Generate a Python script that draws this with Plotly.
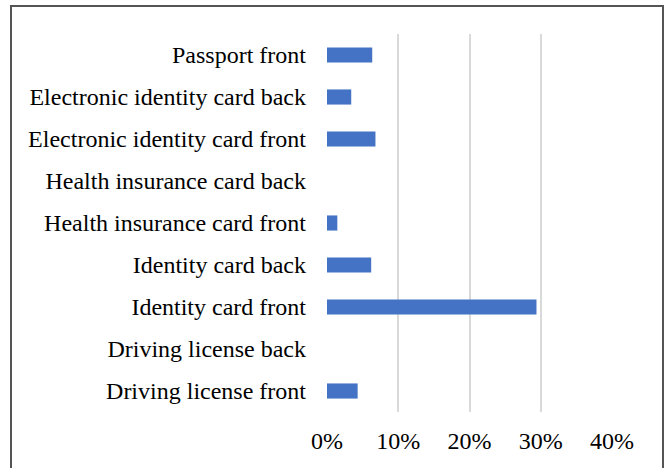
import plotly.graph_objects as go

categories = [
    "Driving license front",
    "Driving license back",
    "Identity card front",
    "Identity card back",
    "Health insurance card front",
    "Health insurance card back",
    "Electronic identity card front",
    "Electronic identity card back",
    "Passport front",
]
values = [0.043, 0.0, 0.294, 0.062, 0.0145, 0.0, 0.068, 0.034, 0.0635]
x_ticks = [0, 0.1, 0.2, 0.3, 0.4]
x_tick_labels = ["0%", "10%", "20%", "30%", "40%"]

W, H = 665, 468
L, R, T, B = 327, 612, 34, 412

fig = go.Figure(go.Bar(
    y=categories, x=values, orientation="h",
    marker=dict(color="#4472C4", line=dict(width=0)),
))

pw, ph = R - L, B - T
fig.add_shape(type="rect", xref="paper", yref="paper",
              x0=(11 - L) / pw, x1=(663 - L) / pw,
              y0=(B - 480) / ph, y1=(B - 6) / ph,
              line=dict(color="#555555", width=2), fillcolor="rgba(0,0,0,0)")

fig.update_layout(
    width=W, height=H,
    margin=dict(l=L, r=W - R, t=T, b=H - B, pad=0),
    paper_bgcolor="white", plot_bgcolor="white",
    font=dict(family="Liberation Serif", size=24, color="#000000"),
    bargap=0.64, showlegend=False,
    xaxis=dict(range=[0, 0.4], tickvals=x_ticks, ticktext=x_tick_labels,
               showgrid=True, gridcolor="#D9D9D9", gridwidth=1.8,
               zeroline=False, showline=False, ticks="", ticklabelstandoff=12,
               fixedrange=True),
    yaxis=dict(showgrid=False, zeroline=False, showline=False, ticks="",
               ticklabelstandoff=20, fixedrange=True),
)
fig.write_html("out.html", config=dict(displayModeBar=False),
               post_script="document.body.style.margin='0';document.body.style.overflow='hidden';")
